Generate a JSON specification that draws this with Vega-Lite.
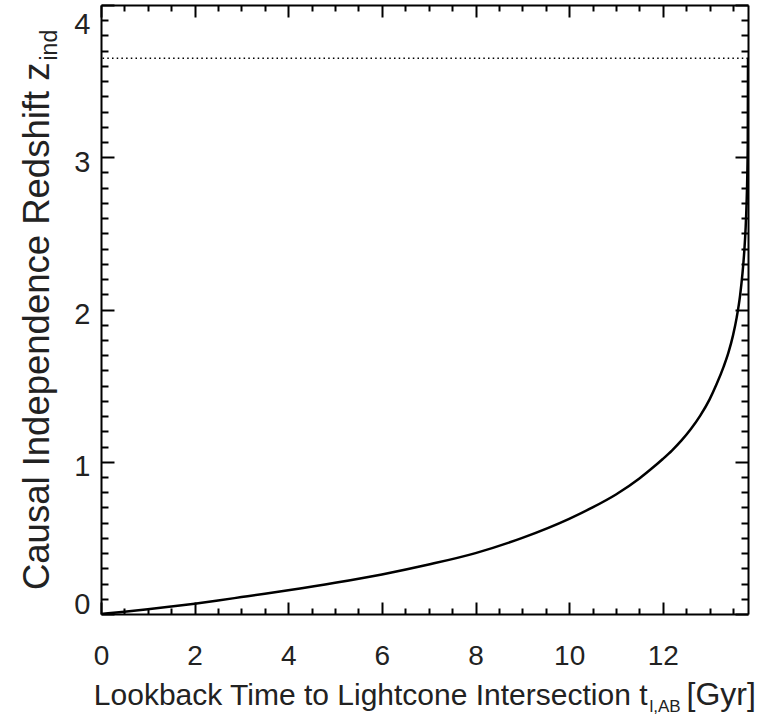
{
  "$schema": "https://vega.github.io/schema/vega-lite/v6.json",
  "width": 647,
  "height": 609,
  "autosize": {"type": "none"},
  "padding": {"left": 101, "top": 5, "right": 13, "bottom": 109},
  "background": "white",
  "config": {
    "view": {"stroke": null},
    "axis": {
      "grid": false,
      "domainColor": "black",
      "domainWidth": 2,
      "tickColor": "black",
      "tickWidth": 2,
      "labelFont": "Liberation Sans",
      "titleFont": "Liberation Sans",
      "labelColor": "#222",
      "titleColor": "#222",
      "labelFontSize": 28,
      "titleFontWeight": "normal"
    }
  },
  "datasets": {
    "curve": [
      {"t": 0, "z": 0},
      {"t": 0.5, "z": 0.015},
      {"t": 1, "z": 0.031},
      {"t": 1.5, "z": 0.049},
      {"t": 2, "z": 0.068},
      {"t": 2.5, "z": 0.089},
      {"t": 3, "z": 0.111},
      {"t": 3.5, "z": 0.133},
      {"t": 4, "z": 0.156},
      {"t": 5, "z": 0.205},
      {"t": 6, "z": 0.26},
      {"t": 7, "z": 0.325},
      {"t": 8, "z": 0.4},
      {"t": 9, "z": 0.5},
      {"t": 10, "z": 0.625},
      {"t": 10.5, "z": 0.7},
      {"t": 11, "z": 0.785},
      {"t": 11.5, "z": 0.89},
      {"t": 11.75, "z": 0.952},
      {"t": 12, "z": 1.018},
      {"t": 12.2, "z": 1.075},
      {"t": 12.4, "z": 1.14},
      {"t": 12.6, "z": 1.215},
      {"t": 12.8, "z": 1.303},
      {"t": 13.0, "z": 1.41},
      {"t": 13.15, "z": 1.51},
      {"t": 13.3, "z": 1.625},
      {"t": 13.4, "z": 1.715},
      {"t": 13.5, "z": 1.83},
      {"t": 13.58, "z": 1.95},
      {"t": 13.65, "z": 2.09},
      {"t": 13.7, "z": 2.23},
      {"t": 13.74, "z": 2.38},
      {"t": 13.77, "z": 2.54},
      {"t": 13.79, "z": 2.7},
      {"t": 13.805, "z": 2.88},
      {"t": 13.815, "z": 3.1},
      {"t": 13.82, "z": 3.65}
    ],
    "limit": [{"z": 3.65}]
  },
  "layer": [
    {
      "data": {"name": "curve"},
      "mark": {"type": "line", "color": "black", "strokeWidth": 2.5, "interpolate": "monotone", "clip": true},
      "encoding": {
        "x": {
          "field": "t", "type": "quantitative",
          "scale": {"domain": [0, 13.82], "nice": false, "zero": false},
          "axis": {
            "orient": "bottom", "values": [0, 2, 4, 6, 8, 10, 12], "format": "d",
            "tickSize": -12, "labelPadding": 40, "labelFlush": false,
            "title": "Lookback Time to Lightcone Intersection t",
            "titleFontSize": 30, "titleAlign": "right", "titleBaseline": "alphabetic",
            "titleX": 546, "titleY": 90
          }
        },
        "y": {
          "field": "z", "type": "quantitative",
          "scale": {"domain": [0, 4], "nice": false, "zero": false},
          "axis": {
            "orient": "left", "values": [0, 1, 2, 3, 4], "format": "d",
            "tickSize": -13, "labelPadding": 24, "labelOffset": 5, "labelFlush": true,
            "labelFontSize": 29,
            "title": "Causal Independence Redshift z",
            "titleFontSize": 36.5, "titleAngle": 270, "titleAlign": "right", "titleBaseline": "alphabetic",
            "titleX": -53, "titleY": 57
          }
        }
      }
    },
    {
      "data": {"name": "curve"},
      "mark": {"type": "line", "opacity": 0},
      "encoding": {
        "x": {
          "field": "t", "type": "quantitative",
          "scale": {"domain": [0, 13.82], "nice": false, "zero": false},
          "axis": {
            "orient": "bottom", "domain": false, "labels": false, "tickSize": -6,
            "values": [0.5, 1, 1.5, 2.5, 3, 3.5, 4.5, 5, 5.5, 6.5, 7, 7.5, 8.5, 9, 9.5, 10.5, 11, 11.5, 12.5, 13, 13.5],
            "title": "l,AB",
            "titleFontSize": 17, "titleAlign": "left", "titleBaseline": "alphabetic",
            "titleX": 548, "titleY": 97
          }
        },
        "y": {
          "field": "z", "type": "quantitative",
          "scale": {"domain": [0, 4], "nice": false, "zero": false},
          "axis": {
            "orient": "left", "domain": false, "labels": false, "tickSize": -7,
            "values": [0.1, 0.2, 0.3, 0.4, 0.5, 0.6, 0.7, 0.8, 0.9, 1.1, 1.2, 1.3, 1.4, 1.5, 1.6, 1.7, 1.8, 1.9, 2.1, 2.2, 2.3, 2.4, 2.5, 2.6, 2.7, 2.8, 2.9, 3.1, 3.2, 3.3, 3.4, 3.5, 3.6, 3.7, 3.8, 3.9],
            "title": "ind",
            "titleFontSize": 23, "titleAngle": 270, "titleAlign": "left", "titleBaseline": "alphabetic",
            "titleX": -45, "titleY": 55
          }
        }
      }
    },
    {
      "data": {"name": "curve"},
      "mark": {"type": "line", "opacity": 0},
      "encoding": {
        "x": {
          "field": "t", "type": "quantitative",
          "scale": {"domain": [0, 13.82], "nice": false, "zero": false},
          "axis": {
            "orient": "top", "labels": false, "tickSize": -12,
            "values": [0, 2, 4, 6, 8, 10, 12],
            "title": "[Gyr]",
            "titleFontSize": 32, "titleAlign": "left", "titleBaseline": "alphabetic",
            "titleX": 585, "titleY": 699
          }
        },
        "y": {
          "field": "z", "type": "quantitative",
          "scale": {"domain": [0, 4], "nice": false, "zero": false},
          "axis": {
            "orient": "right", "labels": false, "tickSize": -13, "title": null,
            "values": [0, 1, 2, 3, 4]
          }
        }
      }
    },
    {
      "data": {"name": "curve"},
      "mark": {"type": "line", "opacity": 0},
      "encoding": {
        "x": {
          "field": "t", "type": "quantitative",
          "scale": {"domain": [0, 13.82], "nice": false, "zero": false},
          "axis": {
            "orient": "top", "domain": false, "labels": false, "tickSize": -6, "title": null,
            "values": [0.5, 1, 1.5, 2.5, 3, 3.5, 4.5, 5, 5.5, 6.5, 7, 7.5, 8.5, 9, 9.5, 10.5, 11, 11.5, 12.5, 13, 13.5]
          }
        },
        "y": {
          "field": "z", "type": "quantitative",
          "scale": {"domain": [0, 4], "nice": false, "zero": false},
          "axis": {
            "orient": "right", "domain": false, "labels": false, "tickSize": -7, "title": null,
            "values": [0.1, 0.2, 0.3, 0.4, 0.5, 0.6, 0.7, 0.8, 0.9, 1.1, 1.2, 1.3, 1.4, 1.5, 1.6, 1.7, 1.8, 1.9, 2.1, 2.2, 2.3, 2.4, 2.5, 2.6, 2.7, 2.8, 2.9, 3.1, 3.2, 3.3, 3.4, 3.5, 3.6, 3.7, 3.8, 3.9]
          }
        }
      }
    },
    {
      "data": {"name": "limit"},
      "mark": {"type": "rule", "color": "black", "strokeWidth": 1.5, "strokeDash": [1.5, 3.2]},
      "encoding": {
        "y": {
          "field": "z", "type": "quantitative",
          "scale": {"domain": [0, 4], "nice": false, "zero": false},
          "axis": null
        }
      }
    }
  ],
  "resolve": {
    "scale": {"x": "independent", "y": "independent"},
    "axis": {"x": "independent", "y": "independent"}
  }
}
